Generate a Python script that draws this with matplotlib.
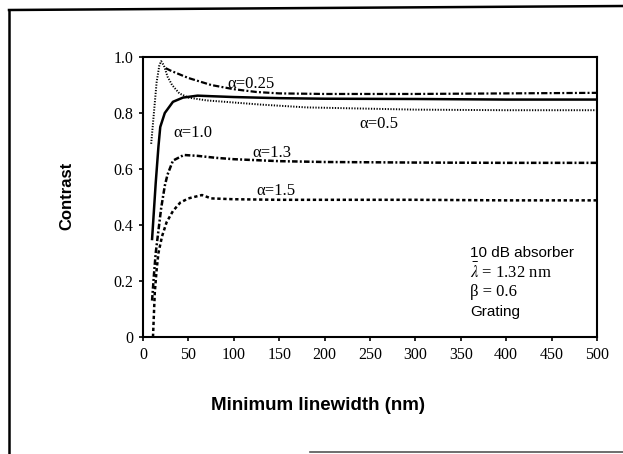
import matplotlib
matplotlib.use("Agg")
import matplotlib.pyplot as plt
from matplotlib.lines import Line2D

plt.rcParams['font.family'] = ['Liberation Serif', 'DejaVu Serif']
plt.rcParams['mathtext.fontset'] = 'stix'
plt.rcParams['lines.scale_dashes'] = False

# Data
x_a025 = [25, 30, 35, 50, 75, 100, 125, 150, 200, 300, 400, 500]
y_a025 = [0.96, 0.952, 0.945, 0.925, 0.90, 0.885, 0.875, 0.87, 0.868, 0.868, 0.87, 0.872]

x_a05 = [9, 12, 15, 18, 20, 23, 27, 32, 40, 50, 70, 90, 130, 180, 300, 400, 500]
y_a05 = [0.69, 0.80, 0.91, 0.97, 0.985, 0.97, 0.93, 0.90, 0.87, 0.855, 0.845, 0.84, 0.83, 0.82, 0.812, 0.81, 0.81]

x_a10 = [10, 12, 14, 17, 19, 24, 33, 44, 60, 75, 100, 150, 200, 300, 400, 500]
y_a10 = [0.35, 0.45, 0.55, 0.68, 0.75, 0.80, 0.84, 0.855, 0.862, 0.86, 0.857, 0.853, 0.851, 0.85, 0.848, 0.848]

x_a13 = [10, 12, 14, 17, 20, 24, 27, 33, 45, 60, 80, 100, 150, 200, 300, 400, 500]
y_a13 = [0.13, 0.22, 0.30, 0.38, 0.46, 0.54, 0.58, 0.63, 0.65, 0.647, 0.64, 0.635, 0.628, 0.625, 0.623, 0.622, 0.622]

x_a15 = [11, 12, 13, 15, 17, 21, 26, 33, 41, 50, 65, 75, 100, 150, 200, 300, 400, 500]
y_a15 = [0.0, 0.08, 0.16, 0.24, 0.30, 0.36, 0.41, 0.45, 0.48, 0.495, 0.507, 0.495, 0.492, 0.49, 0.49, 0.49, 0.488, 0.488]

x_ticks = [0, 50, 100, 150, 200, 250, 300, 350, 400, 450, 500]
y_ticks = [0, 0.2, 0.4, 0.6, 0.8, 1.0]
y_ticklabels = ['0', '0.2', '0.4', '0.6', '0.8', '1.0']

fig = plt.figure(figsize=(6.23, 4.54), dpi=100)
ax = fig.add_axes([143/623, 1-337/454, (597-143)/623, (337-57)/454])

ax.plot(x_a025, y_a025, color='black', lw=1.6, dashes=(4.5, 1.6, 1.4, 1.6))
ax.plot(x_a05, y_a05, color='black', lw=1.4, dashes=(0.9, 1.1))
ax.plot(x_a10, y_a10, color='black', lw=1.8)
ax.plot(x_a13, y_a13, color='black', lw=1.8, dashes=(4.0, 1.6, 1.4, 1.6))
ax.plot(x_a15, y_a15, color='black', lw=1.8, dashes=(2.4, 1.9))

lab_fs = 12
ax.text(93, 0.905, 'α=0.25', fontsize=lab_fs, va='center', ha='left')
ax.text(33, 0.73, 'α=1.0', fontsize=lab_fs, va='center', ha='left')
ax.text(121, 0.657, 'α=1.3', fontsize=lab_fs, va='center', ha='left')
ax.text(125, 0.52, 'α=1.5', fontsize=lab_fs, va='center', ha='left')
ax.text(238, 0.76, 'α=0.5', fontsize=lab_fs, va='center', ha='left')

ax.text(360, 0.30, '10 dB absorber', fontsize=11, family=['Liberation Sans'], va='center', ha='left')
ax.text(360, 0.23, r'$\bar{\lambda}$ = 1.32 nm', fontsize=12, va='center', ha='left')
ax.text(360, 0.16, 'β = 0.6', fontsize=12, va='center', ha='left')
ax.text(360, 0.09, 'Grating', fontsize=11, family=['Liberation Sans'], va='center', ha='left')

ax.set_xlim(0, 500)
ax.set_ylim(0, 1.0)
ax.set_xticks(x_ticks)
ax.set_xticklabels([str(t) for t in x_ticks])
ax.set_yticks(y_ticks)
ax.set_yticklabels(y_ticklabels)
ax.tick_params(direction='out', length=3, width=1.2, labelsize=11.5, pad=4)
for s in ax.spines.values():
    s.set_linewidth(1.5)

fig.text(318/623, 1-405/454, 'Minimum linewidth (nm)', fontsize=13.5, fontweight='bold',
         family=['Liberation Sans'], ha='center', va='center')
fig.text(67/623, 1-196/454, 'Contrast', fontsize=12, fontweight='bold',
         family=['Liberation Sans'], ha='center', va='center', rotation=90)

# outer frame
fig.add_artist(Line2D([9/623, 1.0], [1-10/454, 1-6/454], color='black', lw=1.8))
fig.add_artist(Line2D([9/623, 9/623], [1-10/454, 0], color='black', lw=1.8))
fig.add_artist(Line2D([310/623, 1.0], [1-452/454, 1-452/454], color='#555555', lw=1.2))

fig.savefig('out.png', dpi=100)
